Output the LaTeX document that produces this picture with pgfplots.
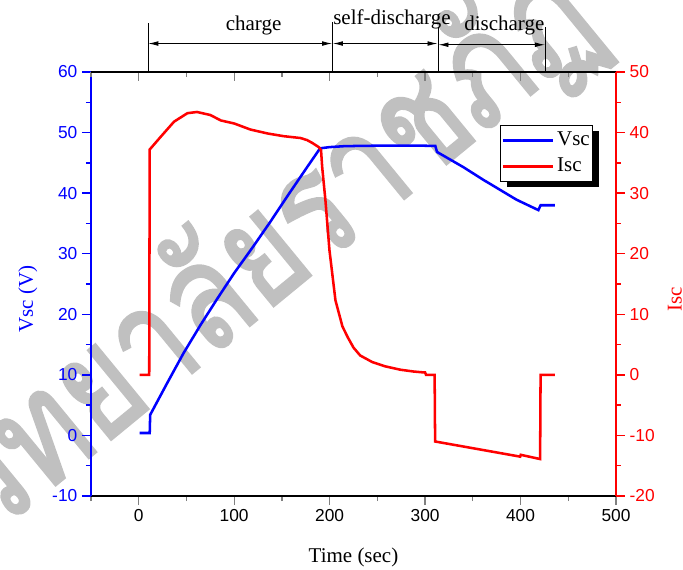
\documentclass[border=0pt]{standalone}
\usepackage{fontspec}
\setmainfont{Liberation Serif}
\newfontfamily\arial{Liberation Sans}
\newfontfamily\thaifont[Script=Thai, FakeBold=2]{Loma}
\usepackage{pgfplots}
\pgfplotsset{compat=1.18}
\usetikzlibrary{arrows.meta,shadows}

\definecolor{vblue}{RGB}{0,0,255}
\definecolor{ired}{RGB}{255,0,0}
\definecolor{wmgray}{RGB}{192,192,192}

\newcommand\lbl{\fontsize{15.75}{18}\selectfont}
\newcommand\tck{\arial\fontsize{13}{15}\selectfont}

\pgfplotsset{
  base/.style={
    scale only axis, width=393.75pt, height=318pt,
    at={(68.25pt,54.75pt)}, anchor=south west,
    xmin=-50, xmax=500,
    xtick={0,100,...,500}, minor xtick={-50,50,...,450},
    /pgf/number format/assume math mode=true,
    tick label style={font=\tck},
    major tick length=6.75pt, minor tick length=3.75pt,
    tick align=outside,
    tick style={line width=1pt},
    axis line style={line width=1.2pt},
    label style={font=\lbl},
    clip=false,
  }
}

\begin{document}
\begin{tikzpicture}

% watermark
\node[rotate=39.4, xscale=0.8, anchor=base, text=wmgray, font={\thaifont\fontsize{112}{112}\selectfont}]
  at (223pt,212pt) {วิทยาลัยราชภัฏ};

% supercapacitor voltage (left axis)
\begin{axis}[base,
  axis y line*=left, axis x line*=bottom,
  ymin=-10, ymax=60,
  ytick={-10,0,...,60}, minor ytick={-5,5,...,55},
  y axis line style={vblue}, ytick style={vblue}, yticklabel style={vblue},
  xlabel={Time (sec)}, ylabel={Vsc (V)},
  every axis x label/.style={at={(axis description cs:0.5,-0.1557)}, anchor=base, font=\lbl},
  every axis y label/.style={at={(axis description cs:-0.1105,0.4646)}, anchor=base, rotate=90, font=\lbl, text=vblue},
]
\addplot[vblue, line width=1.9pt] coordinates {
  (1,0.4) (11.5,0.4) (12,3.4) (30,8.7) (47,13.6) (65,18.3) (82,22.5)
  (100,26.8) (120,31.2) (138,35.3) (157,39.8) (176,44.2) (190,47.4)
  (200,47.6) (215,47.75) (231,47.8) (260,47.85) (290,47.85) (310.7,47.8)
  (312.5,46.8) (340,44.3) (361,42.2) (396,38.9) (418.7,37.2)
  (421,38.0) (436,38.0)
};
% operating phases
\draw[line width=0.6pt] (axis cs:10,60) -- (axis cs:10,68.1);
\draw[line width=0.6pt] (axis cs:203,60) -- (axis cs:203,68.3);
\draw[line width=0.6pt] (axis cs:313.5,60) -- (axis cs:313.5,67.45);
\draw[line width=0.6pt] (axis cs:426,60) -- (axis cs:426,67.45);
\draw[line width=0.6pt, {Latex[length=7.5pt,width=3.5pt]}-{Latex[length=7.5pt,width=3.5pt]}]
  (axis cs:10,64.7) -- (axis cs:202.6,64.7);
\draw[line width=0.6pt, {Latex[length=7.5pt,width=3.5pt]}-{Latex[length=7.5pt,width=3.5pt]}]
  (axis cs:203.4,64.7) -- (axis cs:313.1,64.7);
\draw[line width=0.6pt, {Latex[length=7.5pt,width=3.5pt]}-{Latex[length=7.5pt,width=3.5pt]}]
  (axis cs:314,64.5) -- (axis cs:425.6,64.5);
\node[anchor=base, font=\lbl] at (axis cs:120.3,66.8) {charge};
\node[anchor=base, font=\lbl] at (axis cs:265.3,67.9) {self-discharge};
\node[anchor=base, font=\lbl] at (axis cs:383,66.8) {discharge};
\end{axis}

% supercapacitor current (right axis)
\begin{axis}[base,
  axis y line*=right, axis x line*=top,
  ymin=-20, ymax=50,
  ytick={-20,-10,...,50}, minor ytick={-15,-5,...,45},
  xticklabels={}, xtick align=inside,
  y axis line style={ired}, ytick style={ired}, yticklabel style={ired},
  ylabel={Isc},
  every axis y label/.style={at={(axis description cs:1.1251,0.4646)}, anchor=base, rotate=90, font=\lbl, text=ired},
  legend image code/.code={%
    \begin{scope}[#1]
      \pgfpathmoveto{\pgfpointorigin}
      \pgfpathlineto{\pgfpoint{38pt}{0pt}}
      \pgfusepath{stroke}
    \end{scope}},
  legend cell align=left,
  legend style={at={(0.780,0.875)}, anchor=north west, draw=black, line width=0.6pt,
    font=\lbl, fill=white, inner xsep=0.5pt, inner ysep=1.9pt, row sep=1.2pt,
    nodes={inner xsep=1.75pt, inner ysep=2pt, text height=11pt, text depth=3.5pt},
    drop shadow={shadow xshift=4.5pt, shadow yshift=-4.5pt, fill=black, opacity=1}},
]
\addlegendimage{vblue, line width=1.9pt}
\addlegendentry{Vsc}
\addplot[ired, line width=1.9pt] coordinates {
  (1,0) (11,0) (11.5,37.2) (23,39.3) (37,41.8) (51,43.2) (61,43.4) (75,42.9)
  (86,42.0) (100,41.5) (117,40.5) (135,39.85) (152,39.4) (169.5,39.1)
  (176.5,38.75) (181.7,38.3) (188.6,37.6) (191,37.1) (192.2,34.3)
  (195.6,28.8) (199.8,20.6) (206.1,12.3) (213.4,8.0) (219,6.2) (225,4.5)
  (232,3.2) (244.8,2.1) (258.4,1.4) (274,0.85) (288,0.55) (298.5,0.4)
  (300,0.4) (301,0) (310,0)
  (310.5,-11.0) (399.6,-13.5) (400.2,-13.2) (420.5,-13.9) (421,0) (436,0)
};
\addlegendentry{Isc}
\end{axis}

\pgfresetboundingbox
\useasboundingbox (0,0) rectangle (512.25pt,426.75pt);
\end{tikzpicture}
\end{document}
